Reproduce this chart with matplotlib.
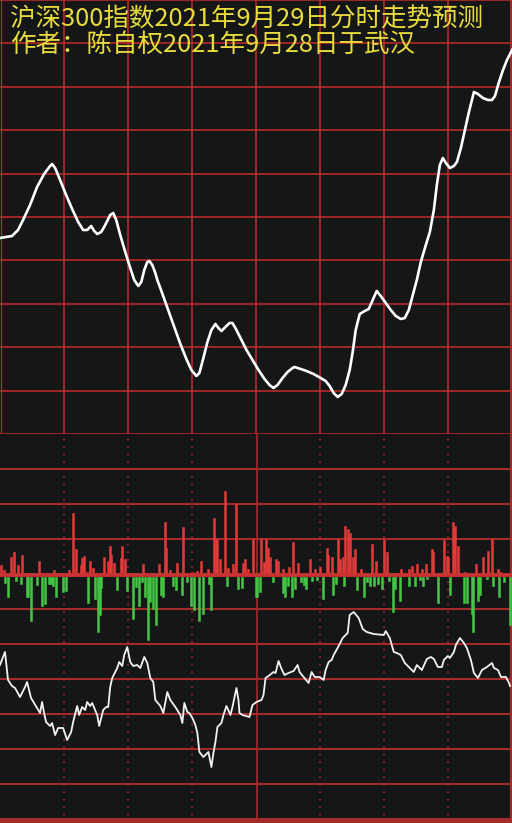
import matplotlib
matplotlib.use("Agg")
import matplotlib.pyplot as plt

plt.rcParams['font.family'] = ['Noto Sans CJK SC', 'DejaVu Sans']

TITLE_1 = "沪深300指数2021年9月29日分时走势预测"
TITLE_2 = "作者：陈自权2021年9月28日于武汉"

# upper panel: forecast curve (sample index, level)
fc_x = [0, 6, 12, 18, 23, 30, 37, 44, 50, 52, 55, 60, 66, 72, 78, 83, 87, 91, 94, 97,
        101, 105, 110, 113, 116, 120, 125, 130, 134, 138, 141, 144, 147, 149, 152, 155,
        157, 160, 165, 170, 175, 180, 186, 191, 196, 199, 203, 207, 211, 215, 218, 221,
        225, 229, 232, 236, 241, 246, 252, 258, 264, 269, 273, 277, 282, 287, 292, 294,
        300, 306, 313, 320, 325, 329, 333, 337, 341, 345, 349, 352, 355, 359, 364, 368,
        372, 376, 380, 385, 390, 395, 400, 404, 408, 412, 416, 420, 425, 429, 433, 436,
        439, 442, 445, 449, 453, 456, 460, 464, 468, 473, 477, 482, 487, 491, 494, 498,
        502, 506, 511]
fc_y = [196, 197, 198, 204, 214, 229, 247, 260, 268, 270, 266, 254, 239, 225, 212, 204,
        204, 208, 203, 200, 202, 209, 219, 221, 214, 199, 182, 166, 154, 148, 152, 164,
        172, 173, 169, 161, 154, 146, 132, 118, 104, 90, 75, 64, 58, 61, 76, 92, 104,
        110, 106, 103, 107, 111, 111, 104, 94, 84, 74, 64, 55, 49, 46, 49, 56, 62, 66,
        67, 65, 63, 60, 56, 53, 48, 41, 37, 40, 49, 64, 82, 104, 120, 123, 125, 134,
        143, 138, 131, 124, 118, 115, 116, 124, 139, 154, 172, 189, 202, 224, 249, 269,
        276, 271, 266, 268, 272, 286, 304, 322, 342, 340, 336, 334, 334, 338, 352, 364,
        374, 384]

# lower panel: volume bars (up = red, down = green)
up_x = [1, 4, 11, 14, 18, 22, 39, 54, 69, 73, 76, 81, 82, 84, 87, 90, 93, 104, 108, 110,
        111, 114, 121, 122, 125, 143, 159, 165, 166, 170, 177, 183, 192, 197, 201, 208,
        214, 216, 217, 220, 225, 228, 233, 236, 243, 245, 248, 253, 260, 263, 265, 267,
        269, 275, 277, 282, 288, 292, 297, 309, 314, 319, 326, 327, 331, 337, 339, 342,
        344, 347, 349, 352, 354, 360, 371, 375, 383, 386, 400, 408, 411, 416, 421, 425,
        431, 432, 443, 446, 447, 452, 454, 457, 464, 475, 482, 487, 491, 497, 499]
up_v = [10, 5, 18, 23, 10, 20, 14, 5, 5, 62, 26, 10, 17, 19, 3, 14, 7, 18, 14, 29, 20,
        12, 17, 29, 16, 11, 11, 53, 27, 5, 12, 48, 3, 4, 14, 6, 57, 36, 36, 16, 84, 7,
        11, 71, 12, 16, 6, 36, 36, 13, 36, 27, 18, 16, 14, 6, 8, 33, 12, 16, 6, 8, 27,
        20, 18, 36, 16, 18, 49, 46, 42, 18, 26, 6, 31, 14, 35, 23, 6, 6, 9, 11, 6, 11,
        26, 23, 35, 19, 18, 53, 49, 29, 3, 11, 18, 24, 36, 6, 3]
dn_x = [5, 8, 16, 21, 27, 28, 31, 37, 42, 45, 49, 51, 53, 56, 63, 66, 88, 95, 98, 100,
        101, 117, 127, 133, 136, 139, 142, 145, 148, 150, 153, 156, 161, 163, 173, 176,
        182, 187, 191, 194, 199, 203, 209, 211, 227, 238, 242, 256, 259, 272, 282, 284,
        287, 291, 294, 300, 303, 305, 311, 316, 322, 332, 335, 343, 356, 363, 366, 369,
        373, 377, 381, 388, 392, 394, 399, 408, 414, 419, 422, 426, 437, 449, 463, 466,
        471, 472, 477, 479, 486, 492, 498, 503, 509]
dn_v = [6, 20, 4, 7, 20, 20, 44, 8, 29, 27, 7, 7, 9, 20, 15, 14, 26, 22, 55, 38, 11, 13,
        14, 42, 10, 29, 5, 20, 63, 25, 32, 48, 18, 20, 9, 13, 18, 5, 29, 33, 44, 37, 7,
        33, 9, 12, 11, 20, 15, 5, 16, 20, 9, 20, 12, 5, 8, 12, 4, 3, 22, 18, 7, 9, 13,
        20, 5, 9, 9, 7, 12, 4, 35, 12, 24, 9, 9, 3, 9, 2, 26, 18, 26, 26, 37, 55, 24,
        18, 2, 9, 20, 5, 48]
VOL_BASE = 248

# lower panel: white line
ln_x = [0, 3, 5, 8, 10, 12, 15, 20, 25, 27, 31, 34, 40, 42, 44, 46, 50, 52, 55, 58, 63,
        67, 71, 73, 77, 79, 82, 85, 87, 90, 92, 97, 99, 103, 106, 108, 110, 112, 117,
        119, 122, 124, 127, 130, 133, 137, 140, 144, 147, 150, 153, 155, 160, 163, 167,
        170, 175, 180, 182, 184, 187, 189, 192, 195, 197, 199, 203, 208, 211, 213, 215,
        217, 221, 223, 226, 230, 232, 236, 238, 239, 242, 249, 252, 256, 261, 263, 265,
        268, 273, 275, 278, 281, 284, 288, 293, 297, 299, 303, 308, 311, 314, 319, 323,
        325, 328, 331, 333, 338, 342, 347, 349, 353, 358, 362, 366, 373, 383, 385, 389,
        393, 396, 400, 404, 409, 413, 416, 421, 426, 430, 433, 437, 441, 443, 447, 449,
        453, 455, 459, 463, 466, 470, 473, 477, 481, 486, 491, 493, 497, 500, 505, 508,
        509]
ln_y = [158, 166, 171, 143, 140, 137, 135, 126, 136, 141, 125, 120, 110, 121, 110, 101,
        97, 100, 88, 95, 95, 83, 91, 101, 117, 108, 116, 113, 121, 117, 120, 108, 97, 113,
        116, 116, 136, 145, 155, 161, 157, 168, 176, 161, 157, 158, 155, 166, 160, 145,
        141, 123, 117, 110, 131, 123, 116, 108, 100, 120, 111, 110, 105, 98, 90, 71, 66,
        71, 56, 70, 81, 96, 100, 108, 117, 108, 116, 135, 123, 110, 108, 106, 118, 121,
        123, 128, 145, 147, 151, 150, 162, 154, 148, 150, 152, 158, 151, 146, 140, 151,
        146, 146, 143, 153, 161, 163, 168, 177, 185, 190, 208, 211, 205, 194, 191, 189,
        188, 192, 185, 171, 170, 168, 160, 155, 151, 158, 153, 164, 166, 164, 156, 156,
        163, 167, 165, 171, 178, 185, 180, 175, 163, 150, 145, 153, 156, 160, 155, 153,
        146, 146, 140, 137]

BG = "#141618"
GRID_RED = "#c42a2a"
DARK_RED = "#a52a2a"
YELLOW = "#e8dc3c"

fig = plt.figure(figsize=(5.12, 8.23), dpi=100)
fig.patch.set_facecolor(BG)

# ── upper panel ──────────────────────────────────────────────
top_h = 434 / 823
ax1 = fig.add_axes([0, 1 - top_h, 1, top_h])
ax1.set_facecolor(BG)
ax1.set_xlim(0, 511)
ax1.set_ylim(0, 434)
for k in range(11):
    ax1.axhline(k * 43.4, color=GRID_RED, lw=1.1, zorder=1)
for k in range(1, 8):
    ax1.axvline(k * 511 / 8, color=GRID_RED, lw=1.1, zorder=1)
ax1.axvline(510, color=GRID_RED, lw=1.2, zorder=1)
ax1.axvline(0.5, color=GRID_RED, lw=0.8, zorder=1)
ax1.plot(fc_x, fc_y, color="white", lw=1.9, solid_joinstyle="round", zorder=3)
ax1.axis("off")

# ── lower panel ──────────────────────────────────────────────
ax2 = fig.add_axes([0, 0, 1, 1 - top_h])
ax2.set_facecolor(BG)
ax2.set_xlim(0, 511)
ax2.set_ylim(0, 389)
for k in range(-7, 4):
    if k != 0:
        ax2.axhline(VOL_BASE + 1 + 35 * k, color=DARK_RED, lw=1.5, zorder=1)
ax2.axhline(2, color=DARK_RED, lw=2.5, zorder=1)
for k in (1, 2, 3, 5, 6, 7):
    ax2.axvline(k * 511 / 8, color=DARK_RED, lw=1.2, ls=(0, (1, 3.5)), zorder=1)
ax2.axvline(256, color=DARK_RED, lw=1.2, zorder=1)
ax2.axvline(510, color=DARK_RED, lw=1.6, zorder=1)

ax2.bar(up_x, up_v, width=2.0, bottom=VOL_BASE, color="#e03a3a",
        edgecolor="#e03a3a", linewidth=0.4, zorder=2)
ax2.bar(dn_x, [-v for v in dn_v], width=2.0, bottom=VOL_BASE - 2, color="#45c445",
        edgecolor="#45c445", linewidth=0.4, zorder=2)
ax2.axhline(VOL_BASE, color="#c83232", lw=2.8, zorder=2)
ax2.plot(ln_x, ln_y, color="#f2f2f2", lw=1.3, zorder=3)
ax2.axis("off")

# ── title text ───────────────────────────────────────────────
fig.text(10 / 512, 1 - 20 / 823, TITLE_1, color=YELLOW, fontsize=18.4,
         va="center", ha="left")
fig.text(10 / 512, 1 - 45 / 823, TITLE_2, color=YELLOW, fontsize=18.4,
         va="center", ha="left")

fig.savefig("out.png", dpi=100, facecolor=BG)
